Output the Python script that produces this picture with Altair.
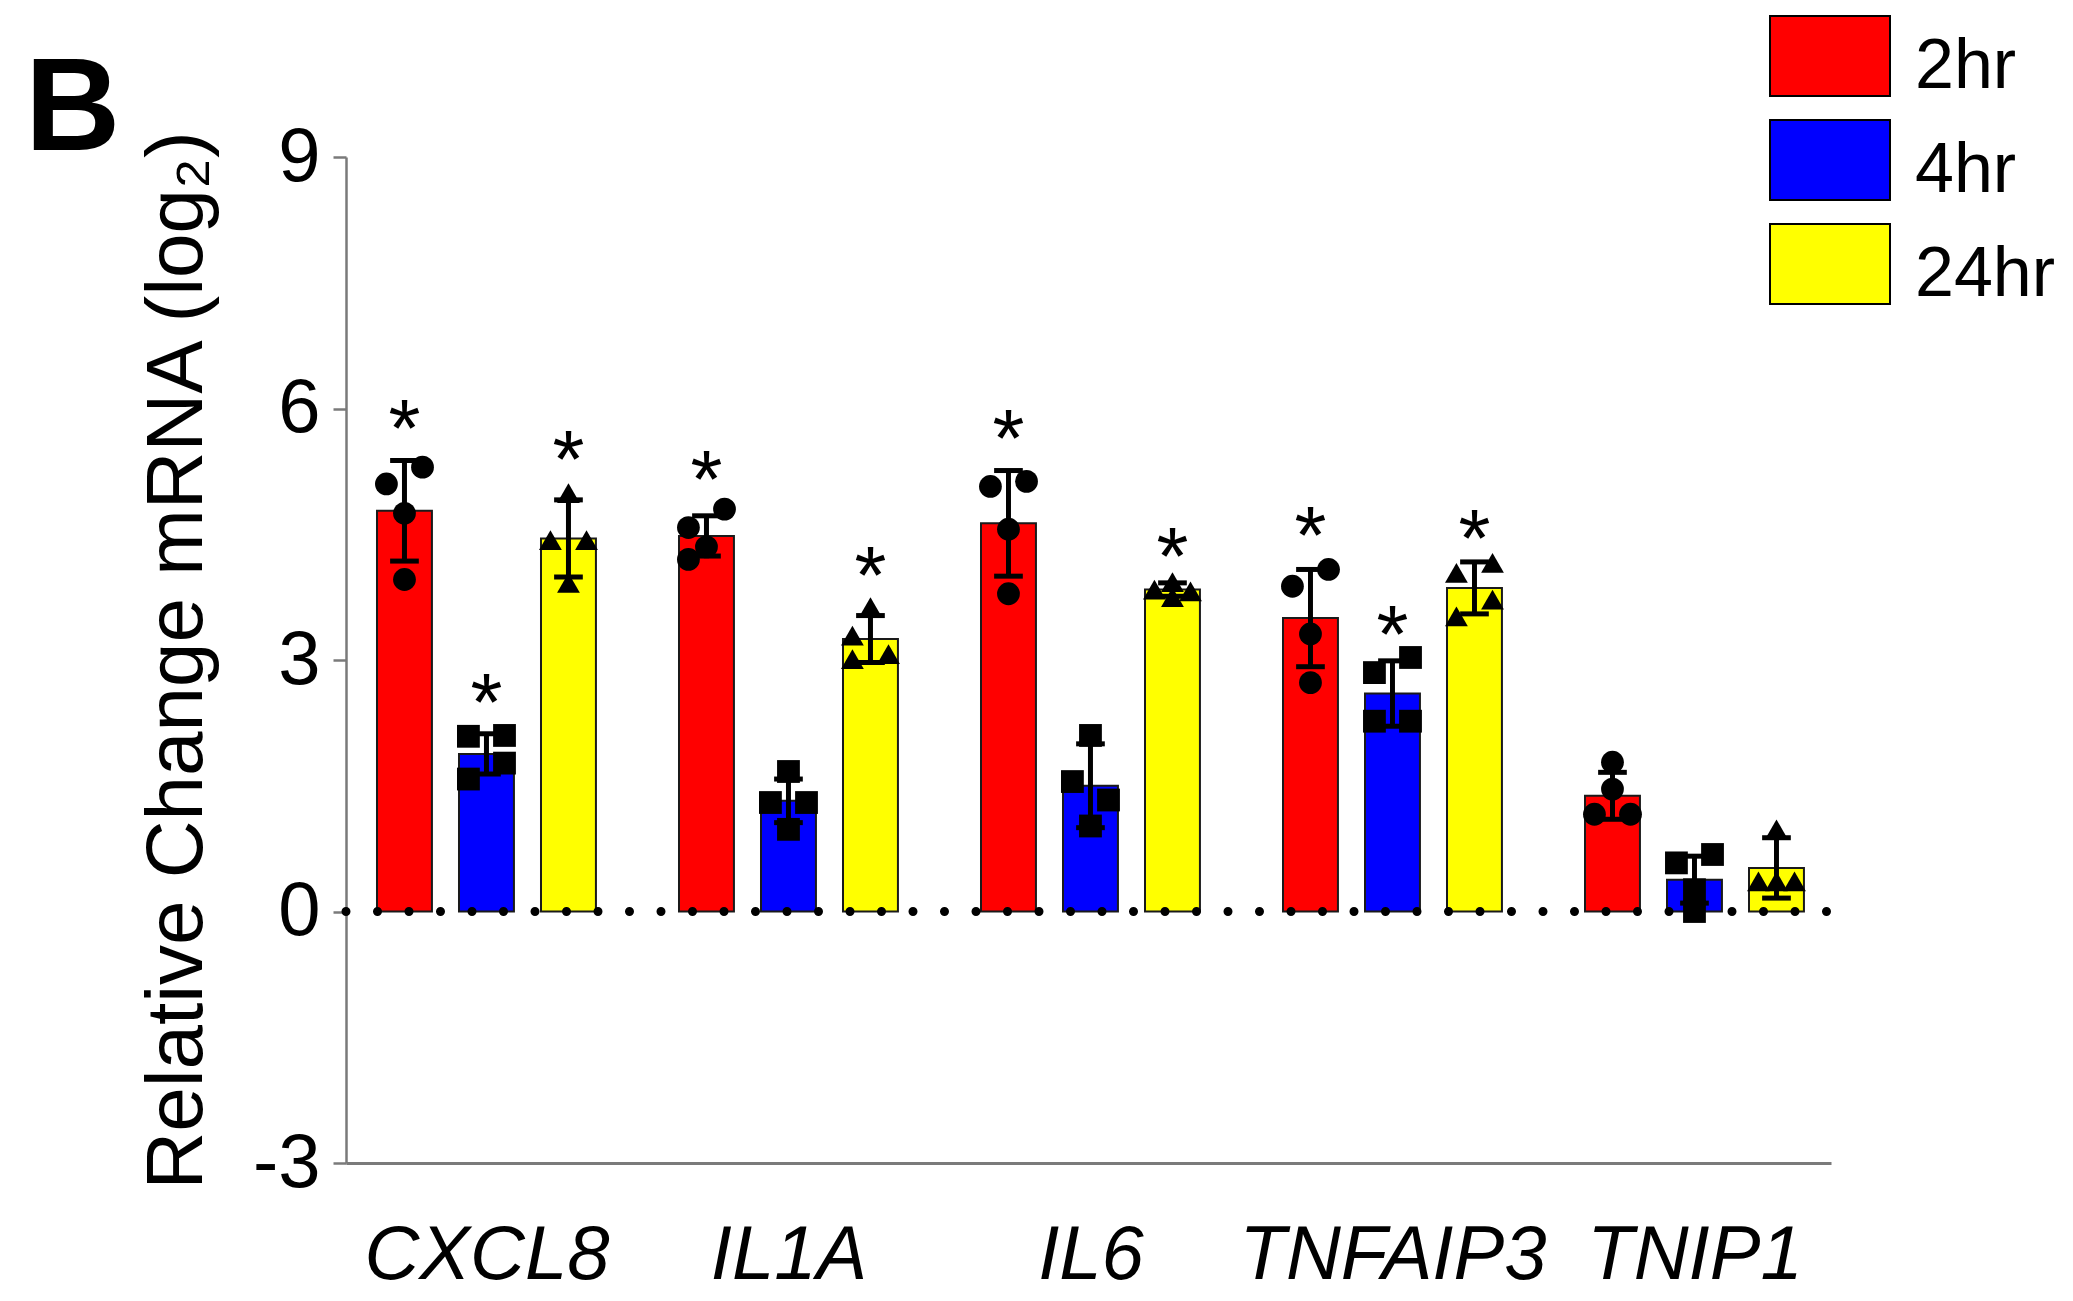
import altair as alt
import pandas as pd

# ---------------- data ----------------
genes = ["CXCL8", "IL1A", "IL6", "TNFAIP3", "TNIP1"]
times = ["2hr", "4hr", "24hr"]
colors = ["#ff0000", "#0000ff", "#ffff00"]
shapes = ["circle", "square", "triangle-up"]

mean_2hr = [4.78, 4.48, 4.63, 3.50, 1.38]
mean_4hr = [1.88, 1.32, 1.50, 2.60, 0.38]
mean_24hr = [4.45, 3.25, 3.84, 3.86, 0.52]

sd_2hr = [0.60, 0.24, 0.63, 0.58, 0.28]
sd_4hr = [0.24, 0.26, 0.50, 0.39, 0.28]
sd_24hr = [0.46, 0.28, 0.08, 0.31, 0.36]

reps_2hr = [[5.10, 5.30, 4.75, 3.96], [4.80, 4.58, 4.35, 4.20], [5.07, 5.13, 4.56, 3.79],
            [3.88, 4.08, 3.31, 2.73], [1.78, 1.46, 1.16, 1.16]]
reps_4hr = [[2.09, 2.10, 1.77, 1.58], [1.67, 1.30, 1.30, 0.98], [2.10, 1.55, 1.33, 1.02],
            [2.85, 3.03, 2.27, 2.27], [0.68, 0.58, 0.26, 0.00]]
reps_24hr = [[4.99, 4.43, 4.43, 3.92], [3.63, 3.29, 3.07, 3.01], [3.93, 3.84, 3.82, 3.75],
             [4.04, 4.16, 3.52, 3.72], [0.98, 0.36, 0.36, 0.36]]

# significance asterisk heights (None = no asterisk)
star_2hr = [6.00, 5.39, 5.88, 4.72, None]
star_4hr = [2.72, None, None, 3.54, None]
star_24hr = [5.62, 4.24, 4.47, 4.68, None]

panel_label = "B"

# ---------------- layout (not data) ----------------
# horizontal placement of each replicate dot inside its bar: -1 left, 0 centre, 1 right
side_2hr = [[-1, 1, 0, 0], [1, -1, 0, -1], [-1, 1, 0, 0], [-1, 1, 0, 0], [0, 0, -1, 1]]
side_4hr = [[-1, 1, 1, -1], [0, -1, 1, 0], [0, -1, 1, 0], [-1, 1, -1, 1], [1, -1, 0, 0]]
side_24hr = [[0, -1, 1, 0], [0, -1, 1, -1], [0, -1, 1, 0], [-1, 1, -1, 1], [0, -1, 0, 1]]

GSTEP = 3.683   # distance between gene groups (in bar slots)
BW = 0.67       # bar width (in bar slots)
JIT = 0.22      # dot offset inside a bar
CAP = 0.175     # half width of error-bar caps
XMIN, XMAX = -0.713, 17.397
W, H = 1485, 1006
FONT = "Liberation Sans, Arial, Helvetica, sans-serif"
GREY = "#7a7a7a"

means = [mean_2hr, mean_4hr, mean_24hr]
sds = [sd_2hr, sd_4hr, sd_24hr]
reps = [reps_2hr, reps_4hr, reps_24hr]
sides = [side_2hr, side_4hr, side_24hr]
stars = [star_2hr, star_4hr, star_24hr]

bar_rows, pt_rows = [], []
for j, t in enumerate(times):
    for g, gene in enumerate(genes):
        xc = g * GSTEP + j
        m, s = means[j][g], sds[j][g]
        bar_rows.append(dict(gene=gene, time=t, xc=xc, x0=xc - BW / 2, x1=xc + BW / 2,
                             c0=xc - CAP, c1=xc + CAP, mean=m, lo=m - s, hi=m + s,
                             star=stars[j][g]))
        for v, sd in zip(reps[j][g], sides[j][g]):
            pt_rows.append(dict(gene=gene, shp=shapes[j], x=xc + sd * JIT, value=v))

bar_df = pd.DataFrame(bar_rows)
pt_df = pd.DataFrame(pt_rows)
star_df = bar_df.dropna(subset=["star"])

xs = alt.Scale(domain=[XMIN, XMAX], nice=False, zero=False)
ys = alt.Scale(domain=[-3, 9], nice=False, zero=False)

gene_arr = "[" + ",".join("'%s'" % g for g in genes) + "]"
x_axis = alt.Axis(values=[g * GSTEP + 1 for g in range(len(genes))],
                  labelExpr="%s[round((datum.value - 1) / %f)]" % (gene_arr, GSTEP),
                  title=None, ticks=False, grid=False, domainColor=GREY, domainWidth=3,
                  labelFont=FONT, labelFontSize=76, labelFontStyle="italic",
                  labelColor="black", labelPadding=55, labelFlush=False,
                  labelOverlap=False, labelBound=False, labelLimit=600)
y_axis = alt.Axis(values=[-3, 0, 3, 6, 9], labelExpr="'' + datum.value",
                  title="Relative Change mRNA (log\u2082)", titleFont=FONT, titleFontSize=80,
                  titleFontWeight="normal", titleColor="black", titleX=-128, titleY=H / 2,
                  grid=False, tickSize=13, tickWidth=2.5, tickColor=GREY,
                  domainColor=GREY, domainWidth=2.5, labelFont=FONT, labelFontSize=76,
                  labelPadding=13, labelColor="black", titleLimit=2000)

legend = alt.Legend(title=None, orient="none", legendX=1443, legendY=-131,
                    symbolType="M-1.5,-1.275H1.5V0.725H-1.5Z", symbolSize=6400,
                    symbolStrokeColor="black", symbolStrokeWidth=2, symbolOpacity=1,
                    labelFont=FONT, labelFontSize=70, labelColor="black",
                    labelOffset=44, rowPadding=14, padding=0)

X = lambda f: alt.X(f, scale=xs, axis=x_axis)
Y = lambda f: alt.Y(f, scale=ys, axis=y_axis)

bars = alt.Chart(bar_df).mark_bar(stroke="#1a1a1a", strokeWidth=2, opacity=1).encode(
    x=X("x0:Q"), x2="x1:Q", y=Y("mean:Q"), y2=alt.datum(0),
    color=alt.Color("time:N", scale=alt.Scale(domain=times, range=colors), legend=legend))

zero = alt.Chart(pd.DataFrame({"v": [0]})).mark_rule(
    color="black", strokeWidth=9, strokeCap="round", strokeDash=[0, 31.5]).encode(
    y=Y("v:Q"), x=alt.value(0), x2=alt.value(W))

err = alt.Chart(bar_df).mark_rule(color="black", strokeWidth=5).encode(
    x=X("xc:Q"), y=Y("lo:Q"), y2="hi:Q")
cap_top = alt.Chart(bar_df).mark_rule(color="black", strokeWidth=5).encode(
    x=X("c0:Q"), x2="c1:Q", y=Y("hi:Q"))
cap_bot = alt.Chart(bar_df).mark_rule(color="black", strokeWidth=5).encode(
    x=X("c0:Q"), x2="c1:Q", y=Y("lo:Q"))

pts = alt.Chart(pt_df).mark_point(filled=True, color="black", opacity=1, size=520).encode(
    x=X("x:Q"), y=Y("value:Q"), shape=alt.Shape("shp:N", scale=None))

star_marks = alt.Chart(star_df).mark_text(
    text="*", font=FONT, fontSize=82, baseline="alphabetic", dy=47, color="black").encode(
    x=X("xc:Q"), y=Y("star:Q"))

panel = alt.Chart(pd.DataFrame({"t": [panel_label]})).mark_text(
    font=FONT, fontSize=132, fontWeight="bold", align="left", baseline="alphabetic",
    color="black").encode(text="t:N", x=alt.value(-321), y=alt.value(-7))

chart = alt.layer(bars, zero, err, cap_top, cap_bot, pts, star_marks, panel).properties(
    width=W, height=H, background="white",
    autosize=alt.AutoSizeParams(type="none"),
    padding={"left": 338, "top": 149, "right": 230, "bottom": 134},
).configure_view(stroke="transparent")

chart.save("out.html", embed_options={"renderer": "svg", "actions": False})
